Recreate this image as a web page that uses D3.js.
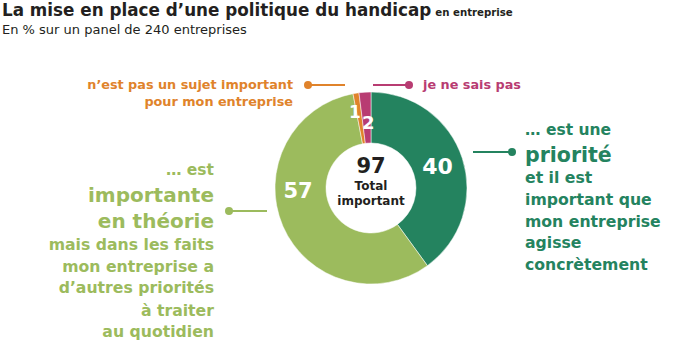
<!DOCTYPE html>
<html>
<head>
<meta charset="utf-8">
<script src="https://cdn.jsdelivr.net/npm/d3@7"></script>
<style>
  body { margin: 0; background: #fff; }
  svg { display: block; font-family: "DejaVu Sans", sans-serif; }
</style>
</head>
<body>
<svg id="chart" width="700" height="343"></svg>
<script>
// data
var categories = ["priorite", "theorie", "pasImportant", "nsp"];
var values = [40, 57, 1, 2];
var totalLabel = ["Total", "important"];

var title = "La mise en place d\u2019une politique du handicap";
var titleSmall = "en entreprise";
var subtitle = "En % sur un panel de 240 entreprises";

// label lines for each slice
var textPriorite = ["\u2026 est une", "priorit\u00e9", "et il est", "important que", "mon entreprise", "agisse", "concr\u00e8tement"];
var textTheorie = ["\u2026 est", "importante", "en th\u00e9orie", "mais dans les faits", "mon entreprise a", "d\u2019autres priorit\u00e9s", "\u00e0 traiter", "au quotidien"];
var textPasImportant = ["n\u2019est pas un sujet important", "pour mon entreprise"];
var textNsp = ["je ne sais pas"];

//-------------------

var svg = d3.select('#chart');
var cx = 371, cy = 188;
var outerR = 96, innerR = 45;

var color = d3.scaleOrdinal()
  .domain(categories)
  .range(['#24835f', '#9cbb5d', '#e0832b', '#b83c72']);

var pie = d3.pie().sort(null).value(function(d) { return d.value; });
var arc = d3.arc().innerRadius(innerR).outerRadius(outerR);

var slices = pie(categories.map(function(c, i) {
  return { key: c, value: values[i] };
}));

// title
var t = svg.append('text')
  .attr('x', 2)
  .attr('y', 16)
  .style('fill', '#231f20')
  .style('font-weight', 'bold');
t.append('tspan').attr('font-size', 16.8).text(title);
t.append('tspan').attr('font-size', 10.2).attr('dx', 4).text(titleSmall);

svg.append('text')
  .attr('x', 2)
  .attr('y', 34)
  .attr('font-size', 13)
  .style('fill', '#231f20')
  .text(subtitle);

// donut
var g = svg.append('g')
  .attr('transform', 'translate(' + cx + ',' + cy + ')');

g.selectAll('path')
  .data(slices)
  .enter()
  .append('path')
  .attr('d', arc)
  .style('fill', function(d) { return color(d.data.key); })
  .style('stroke', '#fff')
  .style('stroke-width', 0.5);

// slice numbers, radius tweaked per slice like in the original
var labelR = { priorite: 70, theorie: 73, pasImportant: 78, nsp: 66 };
var labelShift = { priorite: 0, theorie: 0.37, pasImportant: -0.05, nsp: 0.02 };
var labelSize = { priorite: 22, theorie: 21, pasImportant: 17, nsp: 18 };

g.selectAll('text.val')
  .data(slices)
  .enter()
  .append('text')
  .attr('class', 'val')
  .attr('x', function(d) {
    var a = (d.startAngle + d.endAngle) / 2 + labelShift[d.data.key];
    return Math.sin(a) * labelR[d.data.key];
  })
  .attr('y', function(d) {
    var a = (d.startAngle + d.endAngle) / 2 + labelShift[d.data.key];
    return -Math.cos(a) * labelR[d.data.key];
  })
  .attr('dy', '0.36em')
  .attr('text-anchor', 'middle')
  .attr('font-size', function(d) { return labelSize[d.data.key]; })
  .style('font-weight', 'bold')
  .style('fill', '#fff')
  .text(function(d) { return d.data.value; });

// center total
g.append('text')
  .attr('y', -15)
  .attr('text-anchor', 'middle')
  .attr('font-size', 21)
  .style('font-weight', 'bold')
  .style('fill', '#231f20')
  .text(values[0] + values[1]);

g.selectAll('text.tot')
  .data(totalLabel)
  .enter()
  .append('text')
  .attr('class', 'tot')
  .attr('y', function(d, i) { return 2 + i * 15; })
  .attr('text-anchor', 'middle')
  .attr('font-size', 12)
  .style('font-weight', 'bold')
  .style('fill', '#231f20')
  .text(function(d) { return d; });

// leader lines
function leader(x1, x2, y, dotX, col) {
  svg.append('line')
    .attr('x1', x1).attr('x2', x2)
    .attr('y1', y).attr('y2', y)
    .style('stroke', col)
    .style('stroke-width', 2);
  svg.append('circle')
    .attr('cx', dotX).attr('cy', y)
    .attr('r', 4)
    .style('fill', col);
}

leader(308, 345, 85, 308, color('pasImportant'));
leader(373, 409, 85, 409, color('nsp'));
leader(229, 267, 211, 229, color('theorie'));
leader(473, 512, 152, 512, color('priorite'));

// text blocks
function block(lines, x, ys, sizes, anchor, col) {
  svg.append('g').selectAll('text')
    .data(lines)
    .enter()
    .append('text')
    .attr('x', x)
    .attr('y', function(d, i) { return ys[i]; })
    .attr('text-anchor', anchor)
    .attr('font-size', function(d, i) { return sizes[i]; })
    .style('font-weight', 'bold')
    .style('fill', col)
    .text(function(d) { return d; });
}

block(textPasImportant, 293, [89, 106], [12.8, 12.8], 'end', color('pasImportant'));
block(textNsp, 423, [89], [12.8], 'start', color('nsp'));
block(textTheorie, 214,
  [175, 202, 228, 250, 272, 293, 316, 337],
  [15.5, 20, 20, 15.7, 15.7, 15.7, 15.7, 15.7], 'end', color('theorie'));
block(textPriorite, 525,
  [135, 162, 183, 205, 227, 248, 270],
  [15.5, 20.5, 15.7, 15.7, 15.7, 15.7, 15.7], 'start', color('priorite'));
</script>
</body>
</html>
